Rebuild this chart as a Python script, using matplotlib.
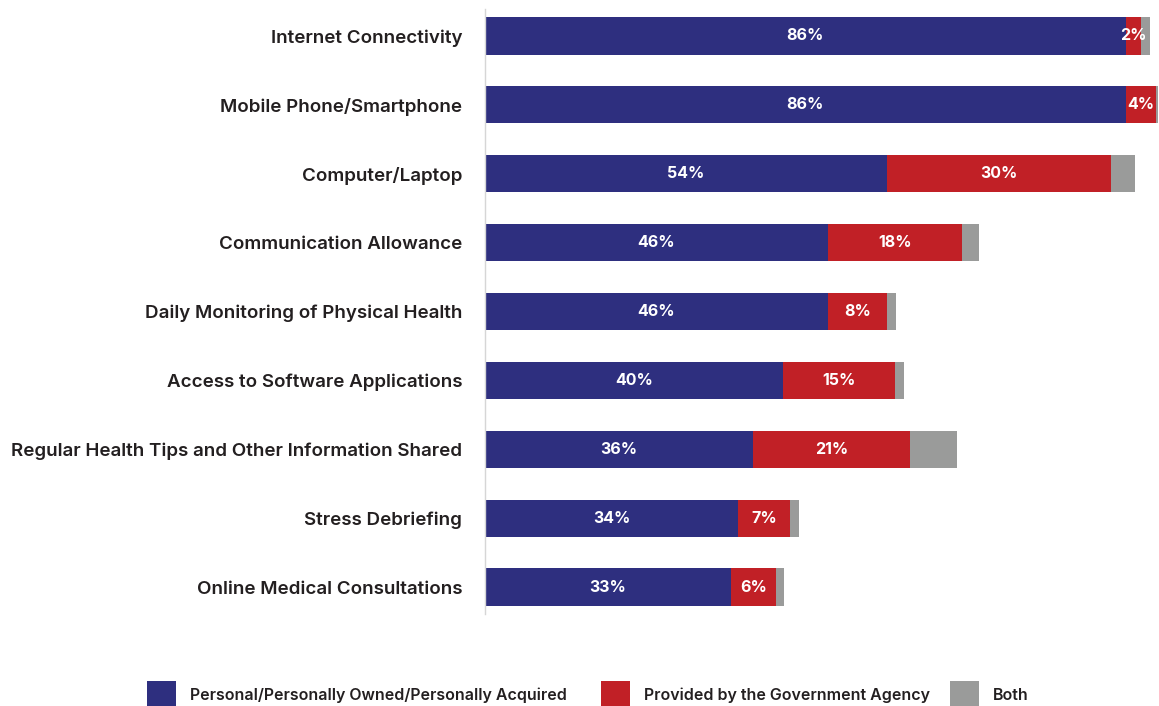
import matplotlib.pyplot as plt
from matplotlib.patches import Rectangle

plt.rcParams['font.family'] = ['Inter', 'DejaVu Sans']

categories = [
    "Internet Connectivity",
    "Mobile Phone/Smartphone",
    "Computer/Laptop",
    "Communication Allowance",
    "Daily Monitoring of Physical Health",
    "Access to Software Applications",
    "Regular Health Tips and Other Information Shared",
    "Stress Debriefing",
    "Online Medical Consultations",
]
personal = [86, 86, 54, 46, 46, 40, 36, 34, 33]
government = [2, 4, 30, 18, 8, 15, 21, 7, 6]
both = [1.2, 0.4, 3.2, 2.3, 1.2, 1.2, 6.3, 1.2, 1.2]

series_names = ["Personal/Personally Owned/Personally Acquired",
                "Provided by the Government Agency", "Both"]
colors = ["#2E2F7F", "#C12026", "#9A9B9A"]
text_col = "#231F20"

W, H = 1159, 706
fig = plt.figure(figsize=(W / 100, H / 100), dpi=100)
ax = fig.add_axes([485 / W, (H - 614) / H, (W - 485) / W, 605 / H])

y = list(range(len(categories)))
bar_h = 0.54
left = [0] * len(categories)
for vals, col in zip([personal, government, both], colors):
    ax.barh(y, vals, left=left, height=bar_h, color=col, linewidth=0)
    left = [l + v for l, v in zip(left, vals)]

# value labels in the personal and government segments
for i in y:
    ax.text(personal[i] / 2, i, f"{personal[i]}%", ha="center", va="center",
            color="white", fontsize=11.5, fontweight="bold")
    ax.text(personal[i] + government[i] / 2, i, f"{government[i]}%", ha="center",
            va="center", color="white", fontsize=11.5, fontweight="bold")

ax.set_xlim(0, (W - 485) / 7.45)
ax.set_ylim(8 + 27 / 68.875, -27 / 68.875)
ax.set_yticks(y)
ax.set_yticklabels(categories, fontsize=13.5, fontweight="semibold", color=text_col)
ax.tick_params(axis="y", length=0, pad=16.5)
ax.set_xticks([])
for s in ["top", "right", "bottom"]:
    ax.spines[s].set_visible(False)
ax.spines["left"].set_color("#D6D6D6")
ax.spines["left"].set_linewidth(1.0)

# legend along the bottom
legend_x = [147, 601, 950]
for x0, name, col in zip(legend_x, series_names, colors):
    fig.patches.append(Rectangle((x0 / W, 0), 29 / W, 25 / H,
                                 transform=fig.transFigure, color=col, linewidth=0))
    fig.text((x0 + 43) / W, (H - 695) / H, name, ha="left", va="center",
             fontsize=11.5, fontweight="semibold", color=text_col)

fig.savefig("out.png", dpi=100)
